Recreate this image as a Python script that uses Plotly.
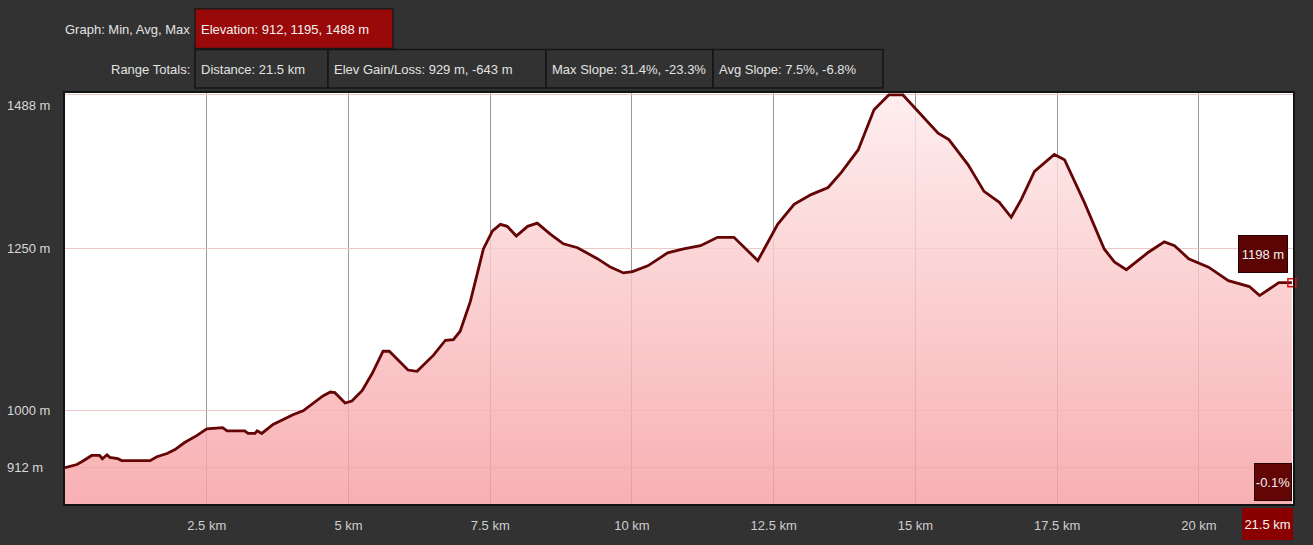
import plotly.graph_objects as go

# ---------------- data ----------------
distance_km = [0.00, 0.21, 0.31, 0.47, 0.61, 0.66, 0.74, 0.79, 0.93, 1.00,
               1.50, 1.62, 1.80, 1.94, 2.11, 2.33, 2.50, 2.78, 2.86, 3.17,
               3.23, 3.35, 3.39, 3.47, 3.67, 3.84, 4.02, 4.20, 4.38, 4.55,
               4.68, 4.76, 4.94, 5.06, 5.24, 5.42, 5.61, 5.72, 6.05, 6.21,
               6.50, 6.71, 6.85, 6.97, 7.15, 7.38, 7.54, 7.68, 7.80, 7.96,
               8.16, 8.33, 8.56, 8.79, 9.04, 9.39, 9.62, 9.85, 10.01, 10.28,
               10.63, 10.91, 11.21, 11.51, 11.80, 12.22, 12.57, 12.86, 13.16, 13.46,
               13.69, 13.99, 14.27, 14.53, 14.78, 15.10, 15.40, 15.59, 15.93, 16.21,
               16.48, 16.69, 16.87, 17.10, 17.45, 17.63, 17.98, 18.33, 18.51, 18.72,
               19.11, 19.39, 19.57, 19.82, 20.17, 20.52, 20.89, 21.07, 21.41, 21.64]
elevation_m = [912, 917, 922, 931, 931, 926, 932, 928, 926, 923,
               923, 929, 934, 940, 951, 962, 972, 974, 969, 969,
               965, 965, 969, 965, 979, 986, 994, 1000, 1012, 1023,
               1029, 1028, 1012, 1015, 1031, 1058, 1092, 1092, 1063, 1061,
               1086, 1109, 1110, 1123, 1169, 1250, 1278, 1288, 1285, 1270,
               1285, 1290, 1273, 1258, 1252, 1235, 1222, 1213, 1215, 1224,
               1244, 1250, 1255, 1268, 1268, 1232, 1288, 1319, 1334, 1345,
               1368, 1403, 1465, 1488, 1488, 1457, 1429, 1419, 1380, 1339,
               1322, 1299, 1327, 1370, 1396, 1388, 1322, 1250, 1230, 1218,
               1245, 1261, 1255, 1235, 1222, 1201, 1192, 1178, 1198, 1198]

x_tick_vals = [2.5, 5, 7.5, 10, 12.5, 15, 17.5, 20]
x_tick_text = ["2.5 km", "5 km", "7.5 km", "10 km", "12.5 km", "15 km", "17.5 km", "20 km"]
y_grid_vals = [912, 1000, 1250, 1488]
y_label_text = ["912 m", "1000 m", "1250 m", "1488 m"]

header_row1_label = "Graph: Min, Avg, Max"
header_row1_box = "Elevation: 912, 1195, 1488 m"
header_row2_label = "Range Totals:"
header_row2_boxes = ["Distance: 21.5 km", "Elev Gain/Loss: 929 m, -643 m",
                     "Max Slope: 31.4%, -23.3%", "Avg Slope: 7.5%, -6.8%"]
end_elev_label = "1198 m"
end_slope_label = "-0.1%"
end_dist_label = "21.5 km"

# ---------------- layout geometry ----------------
W, H = 1313, 545
L, R, T, B = 65, 20, 93, 37
PW, PH = W - L - R, H - T - B
BG = "#323232"
FONT = "Liberation Sans, Arial, sans-serif"
FS = 13
TXT = "#e2e2e2"


def px(xp):
    return (xp - L) / PW


def py(yp):
    return (H - B - yp) / PH


fig = go.Figure()

fig.add_trace(go.Scatter(
    x=distance_km, y=elevation_m, mode="lines",
    line=dict(color="#650404", width=2.8),
    fill="tozeroy",
    fillgradient=dict(type="vertical", start=856, stop=1488,
                      colorscale=[[0, "rgba(246,158,162,0.82)"],
                                  [0.5, "rgba(250,196,198,0.82)"],
                                  [1, "rgba(254,234,234,0.82)"]]),
    hoverinfo="skip", showlegend=False))

fig.add_trace(go.Scatter(
    x=[distance_km[-1]], y=[elevation_m[-1]], mode="markers",
    marker=dict(symbol="square-open", size=8, color="#e01010", line=dict(width=1.5)),
    hoverinfo="skip", showlegend=False, cliponaxis=False))

shapes = []
annotations = []

# header row 1
shapes.append(dict(type="rect", xref="paper", yref="paper",
                   x0=px(195), x1=px(393), y0=py(48), y1=py(8),
                   fillcolor="#9a0909", line=dict(color="#1a1a1a", width=1.5)))
annotations.append(dict(xref="paper", yref="paper", x=px(192), y=py(29),
                        xanchor="right", yanchor="middle", text=header_row1_label,
                        showarrow=False, font=dict(family=FONT, size=FS, color=TXT)))
annotations.append(dict(xref="paper", yref="paper", x=px(199), y=py(29),
                        xanchor="left", yanchor="middle", text=header_row1_box,
                        showarrow=False, font=dict(family=FONT, size=FS, color="#f2f2f2")))

# header row 2
edges = [195, 328, 546, 713, 883]
annotations.append(dict(xref="paper", yref="paper", x=px(192), y=py(69),
                        xanchor="right", yanchor="middle", text=header_row2_label,
                        showarrow=False, font=dict(family=FONT, size=FS, color=TXT)))
for i, t in enumerate(header_row2_boxes):
    shapes.append(dict(type="rect", xref="paper", yref="paper",
                       x0=px(edges[i]), x1=px(edges[i + 1]), y0=py(88), y1=py(49),
                       fillcolor=BG, line=dict(color="#151515", width=1.5)))
    annotations.append(dict(xref="paper", yref="paper", x=px(edges[i] + 4), y=py(69),
                            xanchor="left", yanchor="middle", text=t,
                            showarrow=False, font=dict(family=FONT, size=FS, color=TXT)))

# left y labels
for v, t in zip(y_grid_vals, y_label_text):
    annotations.append(dict(xref="paper", yref="y", x=px(5), y=v,
                            xanchor="left", yanchor="middle", text=t,
                            yshift=-11 if v == max(y_grid_vals) else 0,
                            showarrow=False, font=dict(family=FONT, size=FS, color="#d8d8d8")))

# right end labels
annotations.append(dict(xref="paper", yref="paper", x=px(1288), y=py(256),
                        xanchor="right", yanchor="middle", text=end_elev_label,
                        width=46, height=34, bgcolor="#5a0404", bordercolor="#2a0000",
                        borderwidth=1, showarrow=False,
                        font=dict(family=FONT, size=FS, color="#f0f0f0")))
annotations.append(dict(xref="paper", yref="paper", x=px(1292), y=py(486),
                        xanchor="right", yanchor="middle", text=end_slope_label,
                        width=34, height=34, bgcolor="#650606", bordercolor="#2a0000",
                        borderwidth=1, showarrow=False,
                        font=dict(family=FONT, size=FS, color="#f0f0f0")))
annotations.append(dict(xref="paper", yref="paper", x=px(1293), y=py(528),
                        xanchor="right", yanchor="middle", text=end_dist_label,
                        width=49, height=30, bgcolor="#8a0000", borderwidth=0,
                        showarrow=False,
                        font=dict(family=FONT, size=FS, color="#f4f4f4")))

fig.update_layout(
    width=W, height=H,
    margin=dict(l=L, r=R, t=T, b=B, pad=0),
    paper_bgcolor=BG, plot_bgcolor="#ffffff",
    shapes=shapes, annotations=annotations,
    hovermode=False,
    xaxis=dict(range=[0, 21.66], tickvals=x_tick_vals, ticktext=x_tick_text,
               showgrid=True, gridcolor="#9a9a9a", gridwidth=1,
               zeroline=False, ticks="", ticklabelstandoff=8,
               tickfont=dict(family=FONT, size=FS, color="#cfcfcf"),
               showline=True, linecolor="#121212", linewidth=2, mirror=True),
    yaxis=dict(range=[856, 1491], tickvals=y_grid_vals, showticklabels=False,
               showgrid=True, gridcolor="#efc6c6", gridwidth=1.2,
               zeroline=False, ticks="",
               showline=True, linecolor="#121212", linewidth=2, mirror=True),
)

fig.write_html("out.html", config={"displayModeBar": False},
               post_script="document.body.style.margin='0';document.body.style.overflow='hidden';document.body.style.background='#323232';")
